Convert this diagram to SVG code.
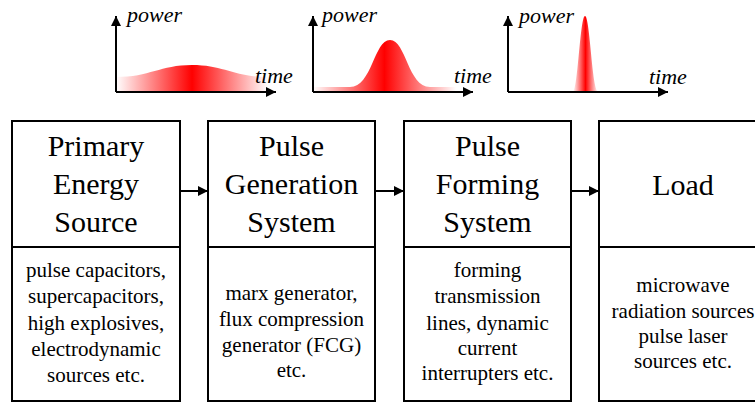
<svg xmlns="http://www.w3.org/2000/svg" width="755" height="402" viewBox="0 0 755 402">
<style>
.box{fill:#fff;stroke:#000;stroke-width:2}
.div{stroke:#000;stroke-width:2}
.axis{stroke:#000;stroke-width:2;fill:none}
.conn{stroke:#000;stroke-width:2;fill:none}
</style>
<defs>
<linearGradient id="g" x1="0" y1="0" x2="1" y2="0">
<stop offset="0" stop-color="#fff"/>
<stop offset="0.5" stop-color="#f00"/>
<stop offset="1" stop-color="#fff"/>
</linearGradient>
<marker id="ah" viewBox="0 0 10 10" refX="10" refY="5" markerWidth="10" markerHeight="10" markerUnits="userSpaceOnUse" orient="auto">
<path d="M0,0 L10,5 L0,10 Z" fill="#000"/>
</marker>
</defs>

<g id="chart1" font-family="'Liberation Serif', 'Times New Roman', serif" font-size="22" font-style="italic">
<path d="M116,91 V77 C150,77 160,65 192,65 C224,65 234,77 268,77 V91 Z" fill="url(#g)"/>
<path class="axis" d="M116,92 V16" marker-end="url(#ah)"/>
<path class="axis" d="M116,92 H276" marker-end="url(#ah)"/>
<text x="127" y="22">power</text>
<text x="255" y="83">time</text>
</g>
<g id="chart2" font-family="'Liberation Serif', 'Times New Roman', serif" font-size="22" font-style="italic">
<path d="M313,91 V87 L350,87 C372,87 374,40 390,40 C406,40 408,87 430,87 L456,87 V91 Z" fill="url(#g)"/>
<path class="axis" d="M313,92 V16" marker-end="url(#ah)"/>
<path class="axis" d="M313,92 H473" marker-end="url(#ah)"/>
<text x="322" y="22">power</text>
<text x="454" y="83">time</text>
</g>
<g id="chart3" font-family="'Liberation Serif', 'Times New Roman', serif" font-size="22" font-style="italic">
<path d="M573,91 C578,91 580,16 585,16 C590,16 592,91 598,91 Z" fill="url(#g)"/>
<path class="axis" d="M508,92 V16" marker-end="url(#ah)"/>
<path class="axis" d="M508,92 H668" marker-end="url(#ah)"/>
<text x="519" y="23">power</text>
<text x="649" y="84">time</text>
</g>

<g id="connectors">
<path class="conn" d="M180,191 H208" marker-end="url(#ah)"/>
<path class="conn" d="M375,191 H404" marker-end="url(#ah)"/>
<path class="conn" d="M571,191 H599" marker-end="url(#ah)"/>
</g>

<g id="primary" font-family="'Liberation Serif', 'Times New Roman', serif" text-anchor="middle">
<rect class="box" x="12" y="121" width="168" height="280"/>
<line class="div" x1="12" y1="247" x2="180" y2="247"/>
<text x="96" y="156" font-size="30">Primary</text>
<text x="96" y="194" font-size="30">Energy</text>
<text x="96" y="232" font-size="30">Source</text>
<text x="96" y="277" font-size="21">pulse capacitors,</text>
<text x="96" y="303" font-size="21">supercapacitors,</text>
<text x="96" y="330" font-size="21">high explosives,</text>
<text x="96" y="356" font-size="21">electrodynamic</text>
<text x="96" y="382" font-size="21">sources etc.</text>
</g>
<g id="generation" font-family="'Liberation Serif', 'Times New Roman', serif" text-anchor="middle">
<rect class="box" x="208" y="121" width="167" height="280"/>
<line class="div" x1="208" y1="247" x2="375" y2="247"/>
<text x="291.5" y="156" font-size="30">Pulse</text>
<text x="291.5" y="194" font-size="30">Generation</text>
<text x="291.5" y="232" font-size="30">System</text>
<text x="291.5" y="300" font-size="21">marx generator,</text>
<text x="291.5" y="326" font-size="21">flux compression</text>
<text x="291.5" y="352" font-size="21">generator (FCG)</text>
<text x="291.5" y="377" font-size="21">etc.</text>
</g>
<g id="forming" font-family="'Liberation Serif', 'Times New Roman', serif" text-anchor="middle">
<rect class="box" x="404" y="121" width="167" height="280"/>
<line class="div" x1="404" y1="247" x2="571" y2="247"/>
<text x="487.5" y="156" font-size="30">Pulse</text>
<text x="487.5" y="194" font-size="30">Forming</text>
<text x="487.5" y="232" font-size="30">System</text>
<text x="487.5" y="277" font-size="21">forming</text>
<text x="487.5" y="303" font-size="21">transmission</text>
<text x="487.5" y="330" font-size="21">lines, dynamic</text>
<text x="487.5" y="355" font-size="21">current</text>
<text x="487.5" y="380" font-size="21">interrupters etc.</text>
</g>
<g id="load" font-family="'Liberation Serif', 'Times New Roman', serif" text-anchor="middle">
<rect class="box" x="599" y="121" width="168" height="280"/>
<line class="div" x1="599" y1="247" x2="767" y2="247"/>
<text x="683" y="195" font-size="30">Load</text>
<text x="683" y="292" font-size="21">microwave</text>
<text x="683" y="318" font-size="21">radiation sources</text>
<text x="683" y="343" font-size="21">pulse laser</text>
<text x="683" y="368" font-size="21">sources etc.</text>
</g>
</svg>
